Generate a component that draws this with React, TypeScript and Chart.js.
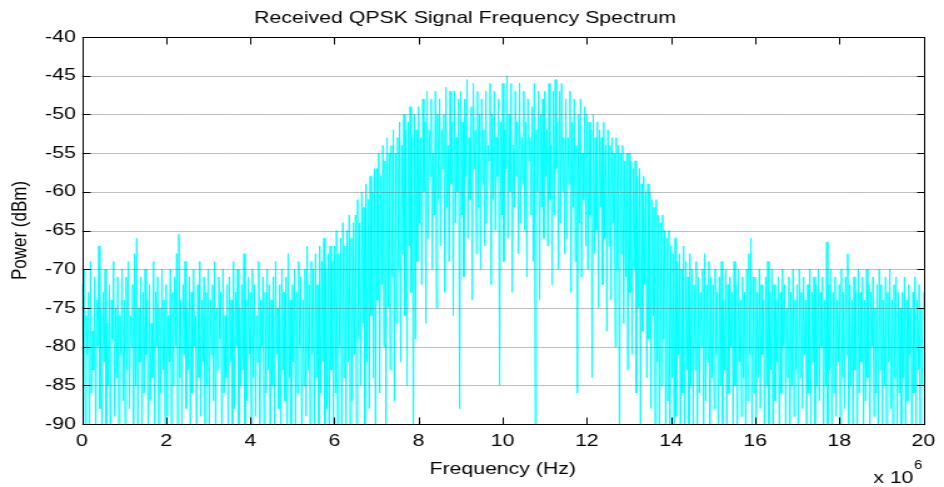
import React, { useEffect, useRef } from 'react';
import { Chart, registerables } from 'chart.js';

Chart.register(...registerables);

// Text
const TITLE = 'Received QPSK Signal Frequency Spectrum';
const X_LABEL = 'Frequency (Hz)';
const Y_LABEL = 'Power (dBm)';
const X_EXPONENT = '6';

// Axis ticks (x in MHz)
const X_TICKS = [0, 2, 4, 6, 8, 10, 12, 14, 16, 18, 20];
const Y_TICKS = [-90, -85, -80, -75, -70, -65, -60, -55, -50, -45, -40];

// Frequency bin width in MHz
const BIN_MHZ = 0.025;

// Power per bin (dBm), 0–6 MHz; one row per 0.5 MHz
const powerLowBand = [
  -72, -84, -70, -91, -76, -81, -73, -96, -69, -86, -78, -83, -71, -93, -74, -80, -67, -88, -75, -95,
  -73, -82, -70, -90, -77, -85, -72, -97, -74, -79, -69, -89, -75, -84, -71, -94, -76, -81, -70, -87,
  -74, -92, -71, -83, -69, -88, -76, -80, -72, -96, -68, -85, -66, -90, -75, -82, -71, -93, -73, -86,
  -70, -81, -74, -95, -72, -87, -77, -84, -69, -91, -73, -80, -71, -98, -75, -86, -70, -83, -74, -92,
  -72, -89, -76, -82, -70, -94, -73, -85, -71, -80, -68, -97, -65.5, -84, -74, -90, -72, -81, -69, -88,
  -75, -83, -71, -93, -73, -86, -70, -80, -76, -95, -72, -84, -69, -89, -74, -82, -71, -96, -73, -85,
  -70, -91, -74, -81, -72, -87, -69, -94, -75, -83, -71, -79, -73, -97, -70, -86, -76, -84, -72, -90,
  -71, -82, -74, -95, -69, -88, -73, -80, -70, -92, -75, -85, -72, -83, -68, -98, -74, -87, -71, -81,
  -73, -94, -70, -84, -72, -89, -76, -82, -69, -96, -74, -80, -71, -91, -73, -86, -70, -83, -72, -97,
  -74, -85, -71, -92, -69, -81, -75, -88, -72, -95, -70, -83, -73, -87, -71, -99, -68, -84, -74, -90,
  -72, -82, -70, -93, -73, -86, -69, -80, -71, -96, -74, -85, -70, -89, -67, -83, -72, -94, -69, -81,
  -70, -91, -68, -84, -72, -97, -67, -86, -69, -82, -66, -93, -70, -88, -68, -95, -67, -83, -69, -90,
];

// Power per bin (dBm), 6–14 MHz (main lobe); one row per 0.5 MHz
const powerMainLobe = [
  -67, -86, -65, -93, -68, -80, -66, -96, -64, -84, -67, -90, -65, -82, -63, -95, -66, -87, -64, -81,
  -63, -92, -61, -79, -64, -85, -60, -77, -62, -94, -59, -82, -61, -88, -58, -76, -60, -84, -57, -91,
  -57, -74, -55, -86, -58, -72, -54, -80, -56, -90, -53, -75, -55, -83, -54, -71, -52, -87, -55, -77,
  -53, -70, -51, -82, -54, -68, -50, -76, -52, -85, -51, -67, -49, -73, -53, -96, -50, -79, -52, -69,
  -49, -64, -53, -72, -48, -60, -51, -77, -47, -66, -52, -58, -48, -70, -55, -63, -47, -75, -50, -61,
  -48, -67, -52, -57, -50, -73, -46.5, -62, -54, -69, -47, -59, -51, -76, -47, -64, -53, -60, -48, -88,
  -47, -63, -51, -71, -48, -58, -45.5, -66, -53, -61, -49, -74, -46, -57, -52, -68, -47, -62, -50, -70,
  -48, -59, -52, -67, -47, -64, -54, -56, -46, -72, -50, -61, -47, -65, -53, -58, -48, -85, -51, -63,
  -46, -69, -52, -57, -45, -66, -50, -60, -46, -73, -54, -62, -47, -58, -51, -68, -46, -64, -53, -59,
  -47, -65, -51, -71, -48, -56, -53, -63, -49, -69, -46, -95, -52, -60, -47, -74, -50, -62, -48, -66,
  -47, -58, -52, -67, -46, -61, -54, -72, -47, -63, -45.5, -57, -51, -70, -47, -64, -46, -60, -53, -68,
  -48, -66, -53, -59, -47, -73, -51, -62, -48, -69, -54, -86, -50, -64, -48, -71, -55, -61, -49, -67,
  -50, -70, -51, -63, -52, -84, -50, -68, -53, -65, -51, -75, -52, -62, -53, -72, -51, -66, -54, -78,
  -52, -67, -54, -74, -53, -64, -55, -80, -53, -70, -54, -95, -55, -68, -54, -77, -56, -71, -55, -83,
  -55, -73, -56, -81, -57, -70, -56, -86, -58, -75, -57, -90, -59, -78, -58, -72, -60, -84, -59, -79,
  -60, -88, -61, -76, -62, -93, -61, -82, -63, -97, -64, -85, -63, -79, -65, -95, -66, -87, -65, -91,
];

// Power per bin (dBm), 14–20 MHz; one row per 0.5 MHz, then the 20 MHz bin
const powerHighBand = [
  -67, -84, -68, -96, -66, -89, -69, -81, -68, -94, -70, -86, -67, -98, -69, -83, -71, -92, -68, -85,
  -70, -90, -72, -83, -69, -95, -71, -86, -73, -80, -70, -93, -68, -87, -72, -82, -69, -97, -71, -84,
  -72, -88, -70, -81, -73, -94, -71, -85, -69, -92, -74, -83, -70, -96, -72, -86, -71, -80, -73, -91,
  -69, -85, -72, -97, -70, -82, -74, -89, -71, -84, -73, -93, -70, -87, -68, -81, -66, -95, -71, -86,
  -71, -92, -73, -84, -70, -88, -72, -81, -74, -96, -71, -85, -69, -90, -73, -83, -70, -98, -72, -87,
  -74, -82, -71, -94, -73, -86, -70, -80, -72, -91, -75, -84, -71, -97, -73, -85, -70, -89, -74, -83,
  -72, -95, -70, -84, -73, -88, -71, -81, -74, -93, -72, -86, -70, -90, -73, -82, -71, -96, -72, -85,
  -70, -87, -73, -80, -71, -94, -74, -85, -66.5, -91, -72, -83, -70, -97, -73, -86, -71, -89, -74, -82,
  -72, -93, -70, -84, -73, -88, -71, -81, -68, -96, -72, -85, -74, -90, -71, -83, -73, -98, -70, -86,
  -73, -82, -71, -91, -74, -87, -70, -84, -72, -95, -73, -80, -71, -89, -75, -86, -72, -93, -70, -83,
  -72, -90, -74, -85, -71, -97, -73, -82, -70, -88, -74, -94, -72, -84, -71, -91, -73, -86, -75, -96,
  -73, -84, -71, -92, -74, -87, -72, -81, -75, -95, -73, -86, -71, -90, -74, -83, -72, -97, -75, -85,
  -73,
];

const powerDbm = [...powerLowBand, ...powerMainLobe, ...powerHighBand];

// The figure is drawn on a narrower canvas and stretched horizontally in CSS.
const VIEW_W = 944;
const VIEW_H = 487;
const STRETCH = 1.25;
const CANVAS_W = Math.round(VIEW_W / STRETCH);

const FONT_FAMILY = '"Liberation Sans", Arial, Helvetica, sans-serif';

const frameAndGrid = {
  id: 'frameAndGrid',
  afterDatasetsDraw(chart: any) {
    const { ctx, chartArea } = chart;
    const { left, right, top, bottom } = chartArea;
    const xs = chart.scales.x;
    const ys = chart.scales.y;
    ctx.save();

    // dotted horizontal grid
    ctx.strokeStyle = 'rgba(110,110,110,0.9)';
    ctx.lineWidth = 1;
    ctx.setLineDash([1, 1]);
    for (const v of Y_TICKS) {
      const y = Math.round(ys.getPixelForValue(v)) + 0.5;
      ctx.beginPath();
      ctx.moveTo(left, y);
      ctx.lineTo(right, y);
      ctx.stroke();
    }
    ctx.setLineDash([]);

    // axes box
    ctx.strokeStyle = '#000';
    ctx.lineWidth = 1;
    const l = Math.round(left) + 0.5;
    const r = Math.round(right) + 0.5;
    const t = Math.round(top) + 0.5;
    const b = Math.round(bottom) + 0.5;
    ctx.strokeRect(l, t, r - l, b - t);

    // inward tick marks
    ctx.beginPath();
    for (const v of X_TICKS) {
      const x = Math.round(xs.getPixelForValue(v)) + 0.5;
      ctx.moveTo(x, b);
      ctx.lineTo(x, b - 7);
      ctx.moveTo(x, t);
      ctx.lineTo(x, t + 7);
    }
    for (const v of Y_TICKS) {
      const y = Math.round(ys.getPixelForValue(v)) + 0.5;
      ctx.moveTo(l, y);
      ctx.lineTo(l + 6, y);
      ctx.moveTo(r, y);
      ctx.lineTo(r - 6, y);
    }
    ctx.stroke();
    ctx.restore();
  },
  afterDraw(chart: any) {
    const { ctx, chartArea } = chart;
    ctx.save();
    ctx.fillStyle = '#000';
    ctx.textBaseline = 'alphabetic';
    ctx.textAlign = 'right';
    ctx.font = `17px ${FONT_FAMILY}`;
    const baseX = chartArea.right - 8;
    ctx.fillText('x 10', baseX, 483);
    ctx.textAlign = 'left';
    ctx.font = `12px ${FONT_FAMILY}`;
    ctx.fillText(X_EXPONENT, baseX + 0.5, 469);
    ctx.restore();
  },
};

export default function App() {
  const canvasRef = useRef<HTMLCanvasElement>(null);

  useEffect(() => {
    const canvas = canvasRef.current;
    if (!canvas) return;
    const points = powerDbm.map((p, i) => ({ x: i * BIN_MHZ, y: p }));

    const chart = new Chart(canvas, {
      type: 'line',
      data: {
        datasets: [
          {
            data: points,
            borderColor: '#00ffff',
            borderWidth: 1,
            pointRadius: 0,
            tension: 0,
            fill: false,
          },
        ],
      },
      options: {
        responsive: false,
        animation: false,
        devicePixelRatio: 1,
        parsing: false,
        layout: { padding: { left: 0, right: 11, top: 0, bottom: 0 } },
        plugins: {
          legend: { display: false },
          tooltip: { enabled: false },
          title: {
            display: true,
            text: TITLE,
            color: '#000',
            font: { family: FONT_FAMILY, size: 17, weight: 'normal' },
            padding: { top: 8, bottom: 8.6 },
          },
        },
        scales: {
          x: {
            type: 'linear',
            min: 0,
            max: 20,
            afterBuildTicks: (s: any) => {
              s.ticks = X_TICKS.map((v) => ({ value: v }));
            },
            afterFit: (s: any) => {
              s.height = 63;
            },
            grid: { display: false, drawTicks: false },
            border: { display: false },
            ticks: {
              color: '#000',
              padding: 7,
              maxRotation: 0,
              font: { family: FONT_FAMILY, size: 17 },
              callback: (v: any) => String(v),
            },
            title: {
              display: true,
              text: X_LABEL,
              color: '#000',
              font: { family: FONT_FAMILY, size: 17 },
              padding: { top: 0, bottom: 7 },
            },
          },
          y: {
            type: 'linear',
            min: -90,
            max: -40,
            afterBuildTicks: (s: any) => {
              s.ticks = Y_TICKS.map((v) => ({ value: v }));
            },
            afterFit: (s: any) => {
              s.width = 65.6;
            },
            grid: { display: false, drawTicks: false },
            border: { display: false },
            ticks: {
              color: '#000',
              padding: 5,
              font: { family: FONT_FAMILY, size: 17 },
              callback: (v: any) => String(v),
            },
            title: {
              display: true,
              text: Y_LABEL,
              color: '#000',
              font: { family: FONT_FAMILY, size: 17 },
              padding: { top: 6, bottom: 0 },
            },
          },
        },
      },
      plugins: [frameAndGrid],
    });

    return () => chart.destroy();
  }, []);

  return (
    <div style={{ position: 'absolute', left: 0, top: 0, width: VIEW_W, height: VIEW_H, background: '#fff' }}>
      <canvas
        ref={canvasRef}
        width={CANVAS_W}
        height={VIEW_H}
        style={{ width: `${VIEW_W}px`, height: `${VIEW_H}px`, display: 'block' }}
      />
    </div>
  );
}
